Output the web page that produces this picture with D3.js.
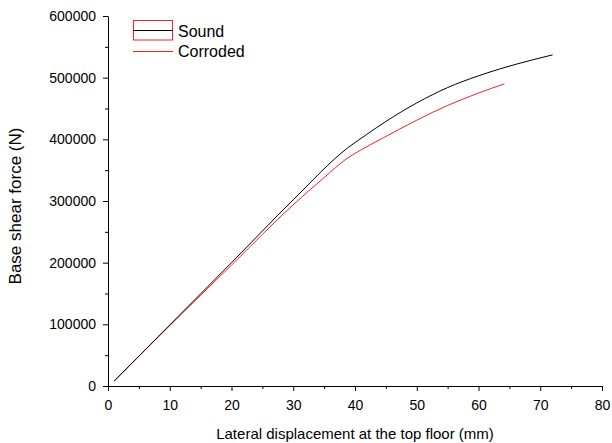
<!DOCTYPE html>
<html>
<head>
<meta charset="utf-8">
<script src="https://cdn.jsdelivr.net/npm/d3@7"></script>
<style>
  body { margin: 0; background: #fff; }
  svg { font-family: "Liberation Sans", Arial, sans-serif; }
</style>
</head>
<body>
<svg id="chart" width="612" height="443"></svg>
<script>
// displacement (mm) and base shear (N)
const soundDisp = [1, 10, 20, 30, 38.8, 41.9, 45, 50, 55, 60, 63.4, 68.8, 72];
const soundForce = [8000, 99000, 200000, 302000, 386000, 408000, 429000, 459000, 484000, 503000, 514000, 529000, 537000];
const corrDisp = [1, 10, 20, 30, 35, 38.7, 41, 44.5, 50, 55, 60, 64.2];
const corrForce = [8000, 98000, 196000, 294000, 338000, 369000, 383000, 402000, 431000, 455000, 475000, 490000];

const xTicks = [0, 10, 20, 30, 40, 50, 60, 70, 80];
const yTicks = [0, 100000, 200000, 300000, 400000, 500000, 600000];

const svg = d3.select('#chart');
const x = d3.scaleLinear().domain([0, 80]).range([108, 602]);
const y = d3.scaleLinear().domain([0, 600000]).range([386, 16]);

// minor ticks
svg.append('g')
  .attr('transform', 'translate(0,386)')
  .call(d3.axisBottom(x).tickValues(d3.range(5, 80, 10)).tickSize(3).tickFormat(''))
  .call(g => g.select('.domain').remove());
svg.append('g')
  .attr('transform', 'translate(108,0)')
  .call(d3.axisLeft(y).tickValues(d3.range(50000, 600000, 100000)).tickSize(3).tickFormat(''))
  .call(g => g.select('.domain').remove());

const xAxis = svg.append('g')
  .attr('transform', 'translate(0,386)')
  .call(d3.axisBottom(x).tickValues(xTicks).tickSize(5).tickSizeOuter(0).tickPadding(9));
const yAxis = svg.append('g')
  .attr('transform', 'translate(108,0)')
  .call(d3.axisLeft(y).tickValues(yTicks).tickSize(5).tickSizeOuter(0).tickPadding(7).tickFormat(d3.format('d')));

[xAxis, yAxis].forEach(g => {
  g.selectAll('text').attr('font-size', 14).attr('fill', '#000')
    .attr('font-family', '"Liberation Sans", Arial, sans-serif');
  g.selectAll('line, path').attr('stroke', '#000').attr('stroke-width', 1);
});

const line = d3.line().x(d => x(d[0])).y(d => y(d[1])).curve(d3.curveMonotoneX);

svg.append('path')
  .datum(d3.zip(corrDisp, corrForce))
  .attr('d', line)
  .attr('fill', 'none')
  .attr('stroke', '#ff2020')
  .attr('stroke-width', 1);

svg.append('path')
  .datum(d3.zip(soundDisp, soundForce))
  .attr('d', line)
  .attr('fill', 'none')
  .attr('stroke', '#000')
  .attr('stroke-width', 1);

// axis titles
svg.append('text')
  .attr('x', 355).attr('y', 439)
  .attr('text-anchor', 'middle')
  .attr('font-size', 15)
  .text('Lateral displacement at the top floor (mm)');

svg.append('text')
  .attr('transform', 'translate(21,206) rotate(-90)')
  .attr('text-anchor', 'middle')
  .attr('font-size', 17)
  .text('Base shear force (N)');

// legend
const legend = svg.append('g');
legend.append('rect')
  .attr('x', 133.5).attr('y', 20.5).attr('width', 39).attr('height', 19.5)
  .attr('fill', 'none').attr('stroke', '#ff2020').attr('stroke-width', 1);
legend.append('line')
  .attr('x1', 133).attr('x2', 173).attr('y1', 30.5).attr('y2', 30.5)
  .attr('stroke', '#000').attr('stroke-width', 1);
legend.append('line')
  .attr('x1', 133).attr('x2', 173).attr('y1', 51.5).attr('y2', 51.5)
  .attr('stroke', '#ff2020').attr('stroke-width', 1);
legend.append('text').attr('x', 178).attr('y', 37).attr('font-size', 16).text('Sound');
legend.append('text').attr('x', 178).attr('y', 57).attr('font-size', 16).text('Corroded');
</script>
</body>
</html>
